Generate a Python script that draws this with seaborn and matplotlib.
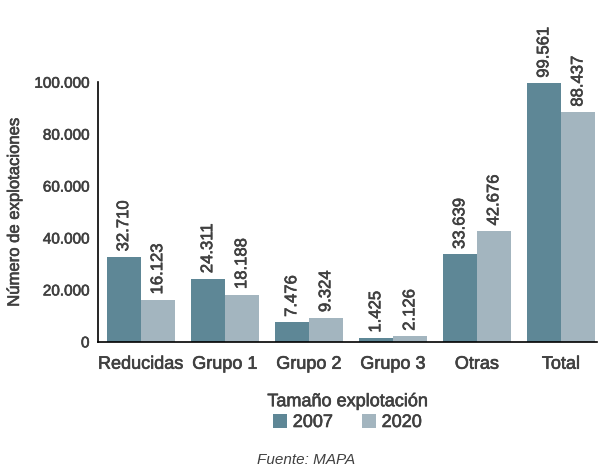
import matplotlib
matplotlib.use("Agg")
import matplotlib.pyplot as plt
import matplotlib.patheffects as pe
import seaborn as sns
import pandas as pd

categorias = ["Reducidas", "Grupo 1", "Grupo 2", "Grupo 3", "Otras", "Total"]
valores_2007 = [32710, 24311, 7476, 1425, 33639, 99561]
valores_2020 = [16123, 18188, 9324, 2126, 42676, 88437]
y_ticks = [0, 20000, 40000, 60000, 80000, 100000]

df = pd.DataFrame({
    "cat": categorias * 2,
    "valor": valores_2007 + valores_2020,
    "anio": ["2007"] * 6 + ["2020"] * 6,
})

sns.set_style("white")
plt.rcParams["font.family"] = ["Liberation Sans", "DejaVu Sans"]
texto = "#404040"
# trazo fino para imitar el peso "medium" del original
grueso = [pe.withStroke(linewidth=0.45, foreground=texto)]

fig = plt.figure(figsize=(6, 4.67), dpi=100)
ax = fig.add_axes([0.163, 0.268, 0.832, 0.556])

sns.barplot(data=df, x="cat", y="valor", hue="anio", ax=ax,
            palette=["#5e8796", "#a3b5bf"], width=0.81, saturation=1,
            linewidth=0)

def fmt(v):
    return f"{v:,}".replace(",", ".")

for cont in ax.containers:
    for bar in cont:
        h = bar.get_height()
        ax.annotate(fmt(int(h)), (bar.get_x() + bar.get_width() / 2, h),
                    xytext=(0, 4), textcoords="offset points", rotation=90,
                    ha="center", va="bottom", fontsize=12, color=texto,
                    annotation_clip=False, path_effects=grueso)

ax.set_ylim(0, 100000)
ax.set_xlim(-0.51, 5.43)
ax.set_yticks(y_ticks)
ax.set_yticklabels([fmt(t) for t in y_ticks], fontsize=11, color=texto)
ax.tick_params(axis="x", labelsize=13, colors=texto, length=0, pad=10)
ax.tick_params(axis="y", length=0, pad=6)
for lab in ax.get_xticklabels() + ax.get_yticklabels():
    lab.set_color(texto)
    lab.set_path_effects(grueso)

for s in ["top", "right"]:
    ax.spines[s].set_visible(False)
for s in ["left", "bottom"]:
    ax.spines[s].set_color("black")
    ax.spines[s].set_linewidth(1.2)

ax.set_xlabel("")
ax.set_ylabel("Número de explotaciones", fontsize=12, color=texto,
              path_effects=grueso)
ax.yaxis.set_label_coords(-0.152, 0.5)

leg = ax.legend(title="Tamaño explotación", loc="upper center",
                bbox_to_anchor=(0.5, -0.17), ncol=2, frameon=False,
                fontsize=13, title_fontsize=13, handlelength=0.8,
                handleheight=0.8, columnspacing=1.6, handletextpad=0.3,
                borderaxespad=0, labelspacing=0.2)
for t in leg.get_texts():
    t.set_color(texto)
    t.set_path_effects(grueso)
leg.get_title().set_color(texto)
leg.get_title().set_path_effects(grueso)

fig.text(0.51, 0.016, "Fuente: MAPA", style="italic", fontsize=11,
         color=texto, ha="center", va="center")

fig.savefig("out.png", dpi=100)
